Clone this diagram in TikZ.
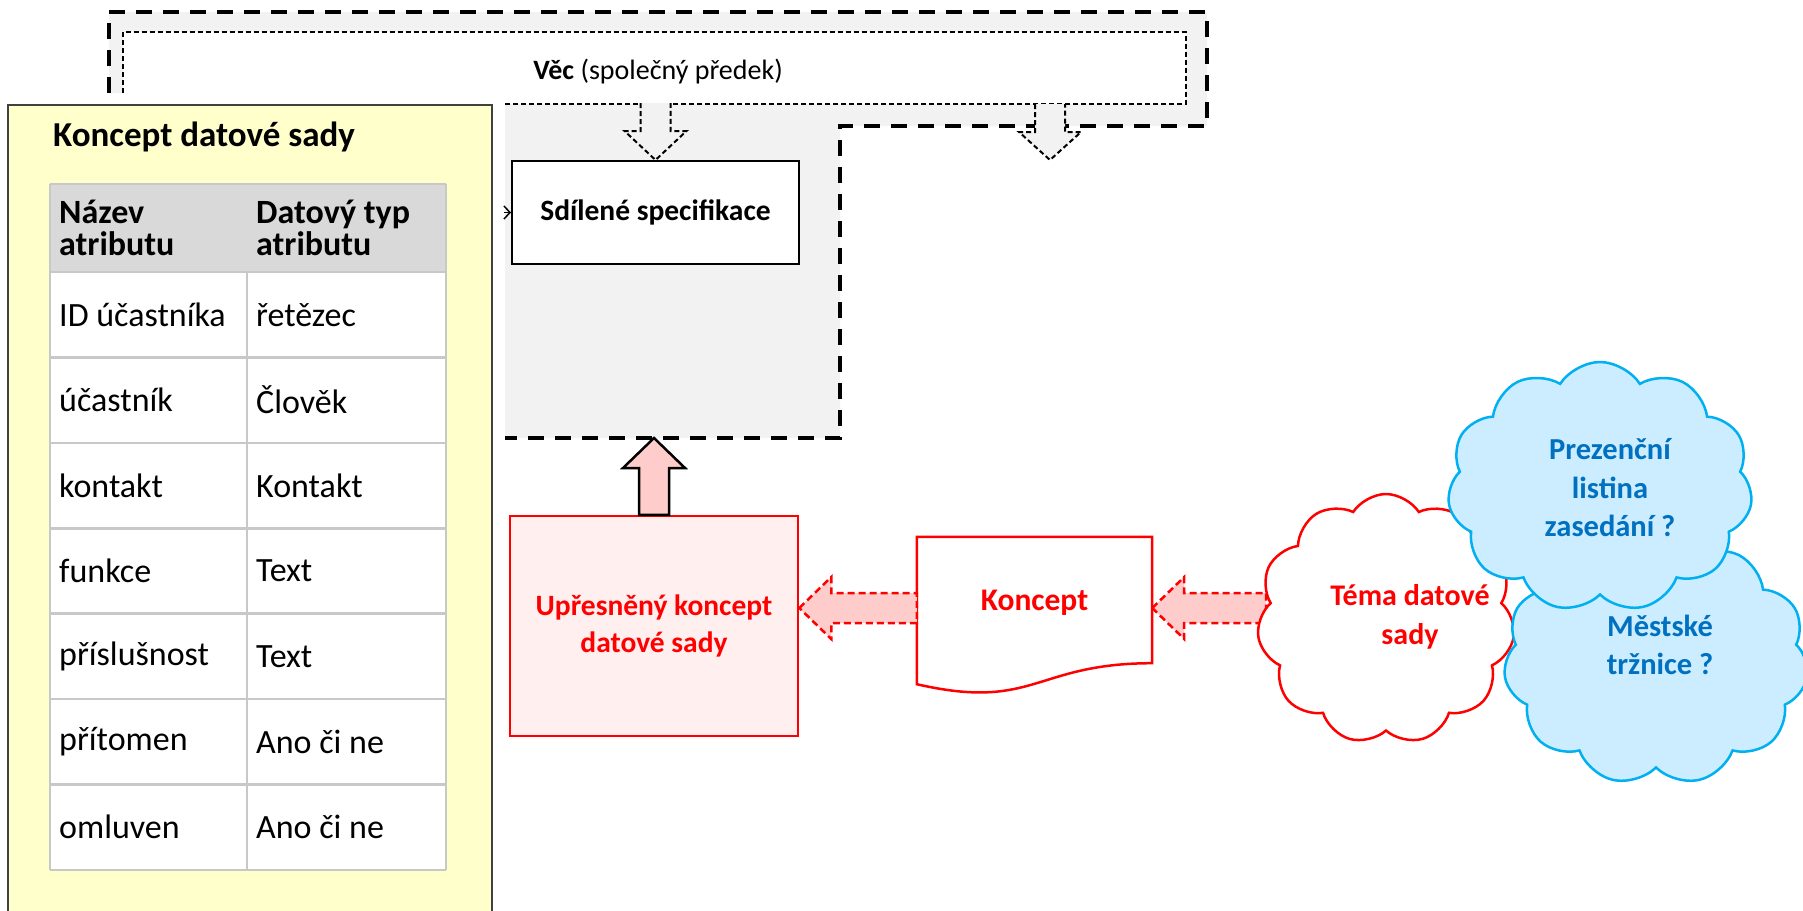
\documentclass[tikz,border=0pt]{standalone}
\usepackage{fontspec}
\setmainfont{Carlito}
\usetikzlibrary{calc,shapes.symbols,arrows.meta}
\definecolor{greybg}{HTML}{F2F2F2}
\definecolor{yelbg}{HTML}{FFFFCC}
\definecolor{yelline}{HTML}{404040}
\definecolor{hdrfill}{HTML}{D9D9D9}
\definecolor{tline}{HTML}{C8C8C8}
\definecolor{pinkfill}{HTML}{FFCCCC}
\definecolor{uprfill}{HTML}{FFEFEF}
\definecolor{cloudfill}{HTML}{CCECFF}
\definecolor{cloudline}{HTML}{00B0F0}
\definecolor{cloudtext}{HTML}{0070C0}
\definecolor{redc}{HTML}{FF0000}
\begin{document}
\begin{tikzpicture}[x=1pt,y=-1pt,
  thickdash/.style={line width=4pt, dash pattern=on 16pt off 11pt},
  thindash/.style={line width=2pt, dash pattern=on 5pt off 3pt},
  reddash/.style={draw=redc, line width=2.5pt, dash pattern=on 7pt off 4pt, fill=pinkfill},
  hollowarrow/.style={thindash, draw=black, fill=greybg},
  uparrowstyle/.style={draw=black, line width=2.5pt, fill=pinkfill},
  specbox/.style={draw, line width=2pt, fill=white, minimum width=287pt, minimum height=103pt, font=\bfseries\fontsize{29.5}{35}\selectfont},
  uprbox/.style={draw=redc, line width=2.5pt, fill=uprfill, minimum width=288pt, minimum height=220pt, text=redc, align=center, font=\bfseries\fontsize{29.5}{37}\selectfont},
  docbox/.style={minimum width=235pt, minimum height=126pt, inner sep=0pt},
  kontext/.style={text=redc, font=\bfseries\fontsize{31.5}{38}\selectfont},
  cloudred/.style={cloud, cloud puffs=11, cloud puff arc=115, cloud ignores aspect, draw=redc, line width=2.5pt, fill=white, minimum width=258pt, minimum height=250pt},
  cloudblue/.style={cloud, cloud puffs=11, cloud puff arc=115, cloud ignores aspect, draw=cloudline, line width=2.5pt, fill=cloudfill, minimum width=305pt, minimum height=250pt},
  redtext/.style={text=redc, align=center, font=\bfseries\fontsize{30}{39}\selectfont},
  bluetext/.style={text=cloudtext, align=center, font=\bfseries\fontsize{30.5}{38.5}\selectfont},
  celltext/.style={anchor=west, inner sep=0pt, font=\fontsize{34}{32}\selectfont},
  hdrtext/.style={anchor=west, inner sep=0pt, align=left, font=\bfseries\fontsize{34}{32}\selectfont},
  tableline/.style={draw=tline, line width=2.5pt}
]
\useasboundingbox (0,0) rectangle (1803,910);

% grey shared region (Věc)
\fill[greybg] (109,93) -- (109,12) -- (1207,12) -- (1207,126) -- (840,126) -- (840,438) -- (505,438) -- (505,93) -- cycle;
\draw[thickdash] (109,93) -- (109,12) -- (1207,12) -- (1207,126) -- (840,126) -- (840,438) -- (505,438);
\fill[white] (123,32) rectangle (1186,104);
\draw[thindash] (123,93) -- (123,32) -- (1186,32) -- (1186,104) -- (505,104);
\node[font=\fontsize{28}{34}\selectfont] (vec) at (658,72) {\textbf{Věc} (společný předek)};

% shared specification
\node[specbox] (spec) at (655.5,212.5) {Sdílené specifikace};
\coordinate (d2tip) at (1050,160);
\draw[hollowarrow] ($(spec.north)+(-15,-57)$) -- ($(spec.north)+(-15,-29)$) -- ($(spec.north)+(-31,-29)$) -- (spec.north) -- ($(spec.north)+(31,-29)$) -- ($(spec.north)+(15,-29)$) -- ($(spec.north)+(15,-57)$);
\draw[hollowarrow] ($(d2tip)+(-15,-56)$) -- ($(d2tip)+(-15,-28)$) -- ($(d2tip)+(-31,-28)$) -- (d2tip) -- ($(d2tip)+(31,-28)$) -- ($(d2tip)+(15,-28)$) -- ($(d2tip)+(15,-56)$);
\coordinate (specin) at ($(spec.west)+(-7,0)$);
\draw[line width=1.5pt, -{Straight Barb[length=6pt,width=13pt]}] (specin) -- (spec.west);

% yellow concept box with table
\draw[yelline, fill=yelbg, line width=2.5pt] (8,105) rectangle (492,930);
\node[anchor=west, inner sep=0pt, font=\bfseries\fontsize{35}{40}\selectfont] (title) at (53,137) {Koncept datové sady};
\fill[hdrfill] (50,184) rectangle (446,272);
\fill[white] (50,272) rectangle (446,870);
\draw[tableline] (50,184) -- (446,184);
\foreach \k in {0,...,7} { \draw[tableline] (50,{272+85.43*\k}) -- (446,{272+85.43*\k}); }
\draw[tableline] (50,184) -- (50,870);
\draw[tableline] (446,184) -- (446,870);
\draw[tableline] (247,272) -- (247,870);
\node[hdrtext] (h1) at (59,228) {Název\\atributu};
\node[hdrtext] (h2) at (256,228) {Datový typ\\atributu};
\foreach \n/\a/\b in {0/ID účastníka/řetězec, 1/účastník/Člověk, 2/kontakt/Kontakt, 3/funkce/Text, 4/příslušnost/Text, 5/přítomen/Ano či ne, 6/omluven/Ano či ne} {
  \node[celltext] (ra\n) at (59,{272+85.43*(\n+0.5)}) {\a};
  \node[celltext] (rb\n) at (256,{272+85.43*(\n+0.5)}) {\b};
}

% refined concept
\node[uprbox] (upr) at (654,626) {Upřesněný koncept\\datové sady};
\coordinate (greybot) at (654,438);
\draw[uparrowstyle] ($(upr.north)+(-15,0)$) -- ($(greybot)+(-15,30)$) -- ($(greybot)+(-31,30)$) -- (greybot) -- ($(greybot)+(31,30)$) -- ($(greybot)+(15,30)$) -- ($(upr.north)+(15,0)$) -- cycle;

% Koncept document
\node[docbox] (kdoc) at (1034.5,600) {};
\draw[draw=redc, line width=2.5pt, fill=white] (kdoc.north west) -- (kdoc.north east) -- (kdoc.south east) .. controls (kdoc.south) and ($(kdoc.south)+(0,48)$) .. ($(kdoc.south west)+(0,21)$) -- cycle;
\node[kontext] (ktext) at (1034.5,603) {Koncept};

% dashed pink arrows
\coordinate (a1tip) at ($(upr.east)+(0,-18)$);
\draw[reddash] (a1tip) -- ($(a1tip)+(32,-31)$) -- ($(a1tip)+(32,-15)$) -- ($(kdoc.west |- a1tip)+(0,-15)$) -- ($(kdoc.west |- a1tip)+(0,15)$) -- ($(a1tip)+(32,15)$) -- ($(a1tip)+(32,31)$) -- cycle;
\coordinate (a2tip) at (kdoc.east |- a1tip);
\coordinate (a2tail) at (1266,608);
\draw[reddash] (a2tip) -- ($(a2tip)+(32,-31)$) -- ($(a2tip)+(32,-15)$) -- ($(a2tail)+(0,-15)$) -- ($(a2tail)+(0,15)$) -- ($(a2tip)+(32,15)$) -- ($(a2tip)+(32,31)$) -- cycle;

% clouds
\node[cloudred] (tema) at (1386,619) {};
\node[cloudblue] (mest) at (1656,660) {};
\node[cloudblue] (prez) at (1600,487) {};
\node[redtext] (tematext) at (1410,617) {Téma datové\\sady};
\node[bluetext] (preztext) at (1610,488) {Prezenční\\listina\\zasedání ?};
\node[bluetext] (mesttext) at (1660,645) {Městské\\tržnice ?};
\end{tikzpicture}
\end{document}
